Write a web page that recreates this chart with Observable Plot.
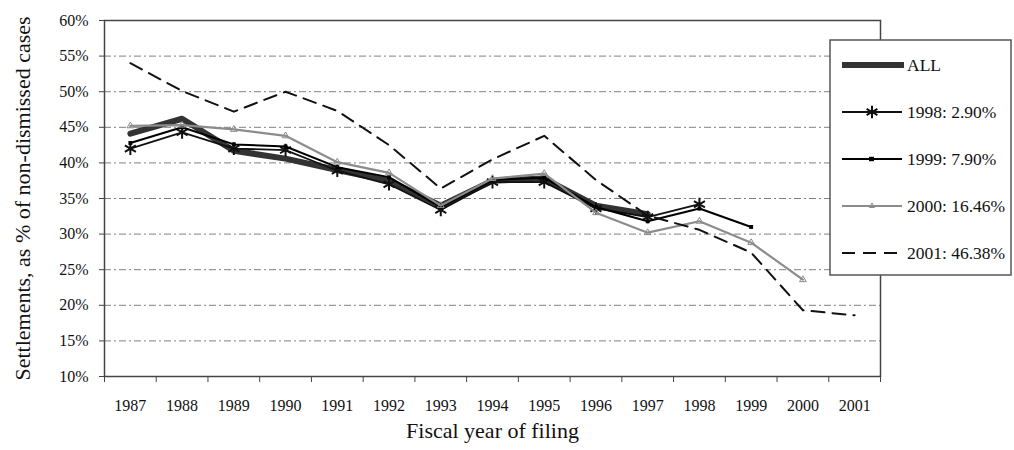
<!DOCTYPE html>
<html>
<head>
<meta charset="utf-8">
<script src="https://cdn.jsdelivr.net/npm/d3@7"></script>
<script src="https://cdn.jsdelivr.net/npm/@observablehq/plot@0.6"></script>
<style>
  html, body { margin: 0; padding: 0; background: #fff; }
  #wrap { position: relative; width: 1014px; height: 450px; }
  #legend { position: absolute; left: 0; top: 0; }
</style>
</head>
<body>
<div id="wrap"></div>
<script>
const years = [1987, 1988, 1989, 1990, 1991, 1992, 1993, 1994, 1995, 1996, 1997, 1998, 1999, 2000, 2001];
const yTicks = [10, 15, 20, 25, 30, 35, 40, 45, 50, 55, 60];
const gridTicks = [15, 20, 25, 30, 35, 40, 45, 50, 55];
const seriesNames = ["ALL", "1998: 2.90%", "1999: 7.90%", "2000: 16.46%", "2001: 46.38%"];
const valuesAll  = [44.1, 46.2, 41.7, 40.6, 39.0, 37.5, 34.0, 37.5, 37.8, 34.0, 32.8];
const values1998 = [42.0, 44.3, 42.0, 41.8, 38.9, 37.0, 33.4, 37.3, 37.3, 33.6, 32.4, 34.2];
const values1999 = [42.8, 45.0, 42.6, 42.3, 39.4, 38.0, 33.8, 37.6, 37.9, 33.8, 31.8, 33.6, 31.0];
const values2000 = [45.2, 45.3, 44.7, 43.8, 40.1, 38.6, 34.0, 37.8, 38.5, 33.0, 30.2, 31.8, 28.8, 23.6];
const values2001 = [54.0, 50.1, 47.2, 50.0, 47.3, 42.5, 36.4, 40.5, 43.8, 37.6, 32.6, 30.6, 27.4, 19.3, 18.6];
const yTitle = "Settlements, as % of non-dismissed cases";
const xTitle = "Fiscal year of filing";

const rows = vals => vals.map((v, i) => ({year: years[i], v}));
const boundaries = years.map(y => y - 0.5).concat([years[years.length - 1] + 0.5]);
const font = "'Liberation Serif', 'DejaVu Serif', serif";

const chart = Plot.plot({
  width: 1014,
  height: 450,
  marginLeft: 104,
  marginRight: 134,
  marginTop: 20,
  marginBottom: 74,
  style: {fontFamily: font, background: "white", color: "#111"},
  x: {domain: [boundaries[0], boundaries[boundaries.length - 1]]},
  y: {domain: [10, 60]},
  marks: [
    Plot.ruleY(gridTicks, {stroke: "#808080", strokeWidth: 1, strokeDasharray: "7,3,2,3"}),
    Plot.frame({stroke: "#444", strokeWidth: 1.5}),
    Plot.axisY({ticks: yTicks, tickSize: 5, tickPadding: 11, tickFormat: d => d + "%", fontSize: 16, label: null, stroke: "#444"}),
    Plot.axisX({ticks: boundaries, tickSize: 6, tickFormat: () => "", label: null, stroke: "#444"}),
    Plot.axisX({ticks: years, tickSize: 0, tickPadding: 23, tickFormat: d => String(d), fontSize: 16, label: null}),
    Plot.text([yTitle], {frameAnchor: "left", dx: -82, rotate: -90, textAnchor: "middle", fontSize: 22, fill: "#111"}),
    Plot.text([xTitle], {frameAnchor: "bottom", dy: 61, textAnchor: "middle", fontSize: 22, fill: "#111"}),
    // ALL
    Plot.line(rows(valuesAll), {x: "year", y: "v", stroke: "#333", strokeWidth: 6, strokeLinejoin: "round"}),
    // 1998
    Plot.line(rows(values1998), {x: "year", y: "v", stroke: "#111", strokeWidth: 1.8}),
    Plot.dot(rows(values1998), {x: "year", y: "v", symbol: "asterisk", r: 6, stroke: "#111", strokeWidth: 2}),
    // 1999
    Plot.line(rows(values1999), {x: "year", y: "v", stroke: "#000", strokeWidth: 2}),
    Plot.dot(rows(values1999), {x: "year", y: "v", symbol: "square", r: 2.2, fill: "#000"}),
    // 2000
    Plot.line(rows(values2000), {x: "year", y: "v", stroke: "#8c8c8c", strokeWidth: 2.2}),
    Plot.dot(rows(values2000), {x: "year", y: "v", symbol: "triangle", r: 2.5, stroke: "#8c8c8c", fill: "none", strokeWidth: 1}),
    // 2001
    Plot.line(rows(values2001), {x: "year", y: "v", stroke: "#111", strokeWidth: 2, strokeDasharray: "13,8"})
  ]
});
document.getElementById("wrap").appendChild(chart);

// Legend box
const lg = d3.select("#wrap").append("svg").attr("id", "legend")
  .attr("width", 1014).attr("height", 450);
lg.append("rect").attr("x", 830).attr("y", 40).attr("width", 181).attr("height", 235)
  .attr("fill", "white").attr("stroke", "#555").attr("stroke-width", 1.5);
const ly = [65, 112, 159, 206, 253];
const styles = [
  {stroke: "#333", w: 6, dash: null, x1: 842, x2: 904},
  {stroke: "#111", w: 1.8, dash: null, x1: 842, x2: 902},
  {stroke: "#000", w: 2, dash: null, x1: 842, x2: 902},
  {stroke: "#8c8c8c", w: 2.2, dash: null, x1: 842, x2: 902},
  {stroke: "#111", w: 2, dash: "13,8", x1: 842, x2: 902}
];
seriesNames.forEach((name, i) => {
  const s = styles[i];
  lg.append("line").attr("x1", s.x1).attr("x2", s.x2).attr("y1", ly[i]).attr("y2", ly[i])
    .attr("stroke", s.stroke).attr("stroke-width", s.w).attr("stroke-dasharray", s.dash);
  lg.append("text").attr("x", 907).attr("y", ly[i]).attr("dy", "0.35em")
    .attr("font-family", font).attr("font-size", 17.5).attr("fill", "#111").text(name);
});
// markers in legend
lg.append("path").attr("d", d3.symbol(d3.symbolAsterisk, 110)()).attr("transform", `translate(872,${ly[1]})`)
  .attr("stroke", "#111").attr("stroke-width", 2).attr("fill", "none");
lg.append("rect").attr("x", 869).attr("y", ly[2] - 2.2).attr("width", 5).attr("height", 4.4).attr("fill", "#000");
lg.append("path").attr("d", d3.symbol(d3.symbolTriangle2, 20)()).attr("transform", `translate(872,${ly[3]})`)
  .attr("stroke", "#8c8c8c").attr("stroke-width", 1).attr("fill", "none");
</script>
</body>
</html>
